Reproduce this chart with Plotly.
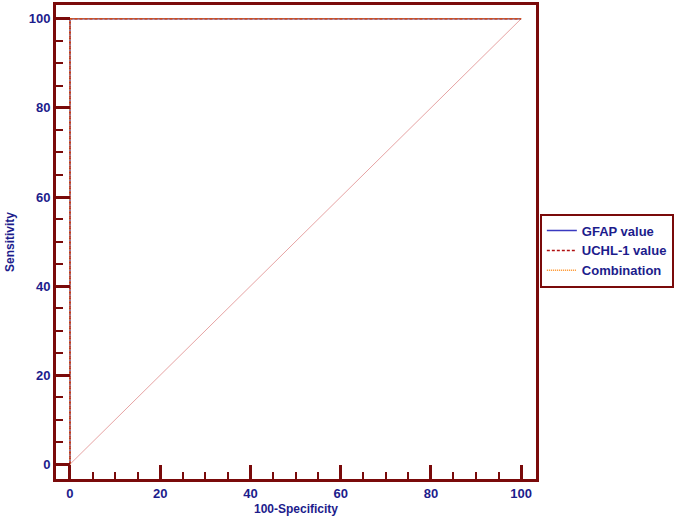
import plotly.graph_objects as go

# ROC coordinates (100-Specificity, Sensitivity)
gfap_x = [0, 0, 100]
gfap_y = [0, 100, 100]
uchl_x = [0, 0, 100]
uchl_y = [0, 100, 100]
comb_x = [0, 0, 100]
comb_y = [0, 100, 100]
ref_x = [0, 100]
ref_y = [0, 100]

frame = '#7a0a0a'
txt = '#1c1c8c'
fnt = 'Liberation Sans, Arial'

fig = go.Figure()
fig.add_trace(go.Scatter(x=ref_x, y=ref_y, mode='lines', showlegend=False,
                         line=dict(color='#e6a3a3', width=1)))
fig.add_trace(go.Scatter(x=gfap_x, y=gfap_y, mode='lines', name='GFAP value',
                         line=dict(color='#3a3ac0', width=1.5)))
fig.add_trace(go.Scatter(x=uchl_x, y=uchl_y, mode='lines', name='UCHL-1 value',
                         line=dict(color='#b01010', width=1.5, dash='3px,2px')))
fig.add_trace(go.Scatter(x=comb_x, y=comb_y, mode='lines', name='Combination',
                         line=dict(color='#ff8c1a', width=1.5, dash='1px,1px')))

axis_common = dict(
    showgrid=False, zeroline=False, showline=True, mirror=True,
    linecolor=frame, linewidth=3,
    ticks='inside', ticklen=14, tickwidth=3, tickcolor=frame,
    dtick=20, tick0=0,
    minor=dict(ticks='inside', ticklen=7, tickwidth=2, tickcolor=frame, dtick=5, tick0=0),
    tickfont=dict(family=fnt, size=13, color=txt, weight='bold'),
)

fig.update_xaxes(range=[-3.1, 103.3], title=dict(text='100-Specificity', standoff=6,
                 font=dict(family=fnt, size=12, color=txt, weight='bold')),
                 **axis_common)
fig.update_yaxes(range=[-3.3, 103.1], title=dict(text='Sensitivity', standoff=12,
                 font=dict(family=fnt, size=12, color=txt, weight='bold')),
                 **axis_common)

fig.update_layout(
    width=685, height=519,
    margin=dict(l=56, r=149, t=2, b=40),
    plot_bgcolor='white', paper_bgcolor='white',
    legend=dict(x=1.008, y=0.56, xanchor='left', yanchor='top',
                bordercolor=frame, borderwidth=2, bgcolor='white',
                font=dict(family=fnt, size=13, color=txt, weight='bold'),
                tracegroupgap=0),
)

fig.write_html("out.html", config={'displayModeBar': False},
               post_script="document.body.style.margin='0';")
